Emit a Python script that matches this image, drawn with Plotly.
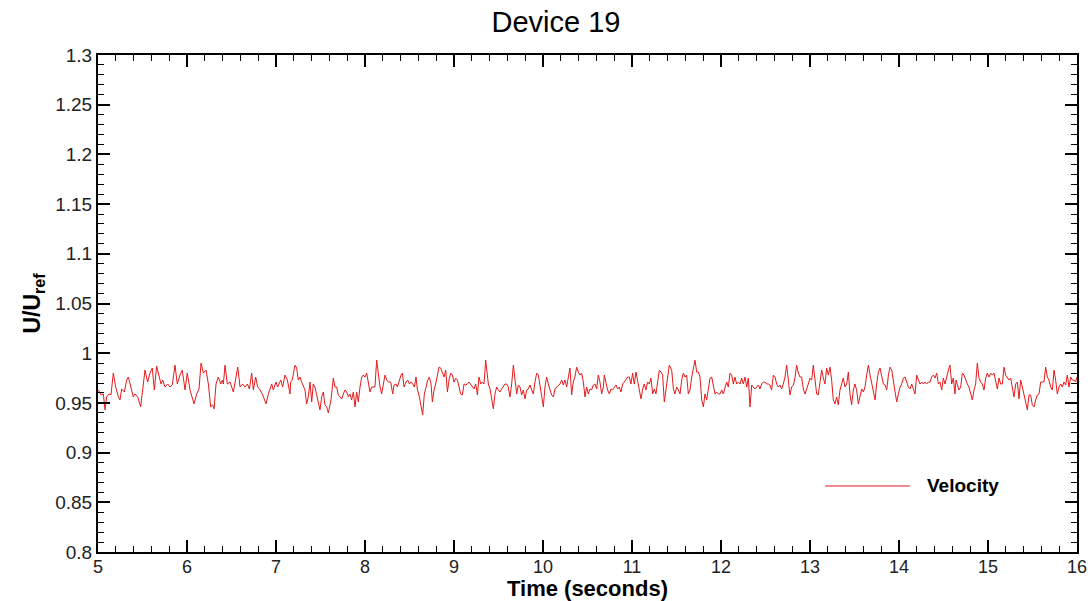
import plotly.graph_objects as go

title_text = "Device 19"
x_label = "Time (seconds)"
y_label = "<b>U/U<sub>ref</sub></b>"
series_name = "Velocity"

time_s = [
    5.004, 5.034, 5.06, 5.079, 5.097, 5.124, 5.146, 5.172, 5.199, 5.229, 5.247, 5.266, 5.296, 5.322, 5.341,
    5.371, 5.397, 5.416, 5.446, 5.479, 5.502, 5.528, 5.558, 5.584, 5.61, 5.633, 5.659, 5.685, 5.708, 5.727,
    5.753, 5.783, 5.809, 5.835, 5.865, 5.891, 5.921, 5.947, 5.978, 6.003, 6.034, 6.079,
    6.109, 6.135, 6.158, 6.184, 6.214, 6.240, 6.266, 6.289, 6.304, 6.326, 6.352, 6.379, 6.397, 6.409, 6.427,
    6.453, 6.483, 6.521, 6.547, 6.570, 6.596, 6.626, 6.652, 6.678, 6.701, 6.727, 6.746, 6.772, 6.794, 6.821,
    6.851, 6.888, 6.914, 6.952, 6.970, 7.000, 7.019, 7.053, 7.075, 7.101, 7.128, 7.158,
    7.165, 7.183, 7.213, 7.232, 7.251, 7.270, 7.288, 7.307, 7.326, 7.344, 7.363, 7.382, 7.401, 7.419, 7.438,
    7.457, 7.476, 7.494, 7.513, 7.532, 7.550, 7.569, 7.588, 7.618, 7.644, 7.663, 7.682, 7.700, 7.719, 7.738,
    7.757, 7.775, 7.794, 7.813, 7.831, 7.850, 7.869, 7.888, 7.906, 7.925, 7.944, 7.963, 7.981, 8.000, 8.019,
    8.037, 8.056, 8.075, 8.093, 8.112, 8.131, 8.150, 8.169, 8.187, 8.206, 8.225,
    8.244, 8.263, 8.289, 8.311, 8.326, 8.349, 8.364, 8.386, 8.405, 8.420, 8.439, 8.461, 8.480, 8.499, 8.517,
    8.536, 8.555, 8.573, 8.588, 8.611, 8.630, 8.648, 8.667, 8.686, 8.705, 8.723, 8.742, 8.757, 8.776, 8.794,
    8.813, 8.832, 8.851, 8.869, 8.888, 8.907, 8.926, 8.944, 8.963, 8.982, 9.000, 9.019, 9.038, 9.057, 9.075,
    9.094, 9.113, 9.131, 9.150, 9.169, 9.188, 9.206, 9.225, 9.244, 9.263, 9.281,
    9.300, 9.318, 9.337, 9.356, 9.371, 9.386, 9.405, 9.423, 9.442, 9.461, 9.479, 9.498, 9.517, 9.536, 9.554,
    9.573, 9.592, 9.610, 9.629, 9.648, 9.667, 9.685, 9.704, 9.723, 9.742, 9.760, 9.779, 9.798, 9.817, 9.835,
    9.854, 9.873, 9.891, 9.910, 9.929, 9.948, 9.966, 9.985, 10.004, 10.022, 10.041, 10.060, 10.079, 10.097,
    10.116, 10.135, 10.154, 10.172, 10.191, 10.210, 10.228, 10.247, 10.266, 10.285, 10.303,
    10.322, 10.340, 10.359, 10.378, 10.397, 10.415, 10.434, 10.453, 10.472, 10.490, 10.509, 10.528, 10.546,
    10.565, 10.584, 10.603, 10.621, 10.640, 10.659, 10.678, 10.689, 10.707, 10.726, 10.745, 10.764, 10.782,
    10.801, 10.820, 10.839, 10.857, 10.876, 10.895, 10.913, 10.932, 10.951, 10.970, 10.988, 11.007, 11.026,
    11.045, 11.063, 11.082, 11.101, 11.120, 11.138, 11.157, 11.176, 11.195, 11.213, 11.232, 11.251, 11.269,
    11.288, 11.307, 11.326, 11.344, 11.363, 11.382, 11.400, 11.419,
    11.446, 11.465, 11.483, 11.502, 11.521, 11.540, 11.558, 11.577, 11.596, 11.614, 11.633, 11.652, 11.671,
    11.689, 11.708, 11.727, 11.746, 11.764, 11.783, 11.802, 11.820, 11.839, 11.858, 11.877, 11.895, 11.914,
    11.933, 11.951, 11.970, 11.989, 12.008, 12.026, 12.045, 12.064, 12.083, 12.101, 12.120, 12.139, 12.157,
    12.176, 12.195, 12.214, 12.232, 12.251, 12.270, 12.289, 12.307, 12.326, 12.345, 12.363, 12.382, 12.401,
    12.420, 12.438, 12.457, 12.476,
    12.494, 12.513, 12.532, 12.550, 12.569, 12.588, 12.607, 12.625, 12.644, 12.663, 12.681, 12.700, 12.719,
    12.738, 12.756, 12.775, 12.794, 12.813, 12.831, 12.850, 12.869, 12.887, 12.906, 12.925, 12.944, 12.962,
    12.981, 13.000, 13.019, 13.037, 13.056, 13.075, 13.093, 13.112, 13.131, 13.150, 13.168, 13.187, 13.206,
    13.225, 13.243, 13.262, 13.281, 13.299, 13.318, 13.337, 13.356, 13.374, 13.393, 13.412, 13.431, 13.449,
    13.468, 13.487, 13.505, 13.524, 13.543,
    13.562, 13.581, 13.600, 13.618, 13.637, 13.656, 13.675, 13.693, 13.712, 13.731, 13.749, 13.768, 13.787,
    13.806, 13.824, 13.843, 13.862, 13.881, 13.899, 13.918, 13.937, 13.955, 13.974, 13.993, 14.012, 14.030,
    14.049, 14.068, 14.087, 14.105, 14.124, 14.143, 14.161, 14.180, 14.199, 14.218, 14.236, 14.255, 14.274,
    14.292, 14.311, 14.330, 14.349, 14.367, 14.386, 14.405, 14.424, 14.442, 14.461, 14.480, 14.498, 14.517,
    14.536, 14.555, 14.573,
    14.592, 14.610, 14.629, 14.640, 14.655, 14.674, 14.693, 14.712, 14.730, 14.749, 14.768, 14.786, 14.805,
    14.824, 14.843, 14.861, 14.880, 14.899, 14.918, 14.936, 14.955, 14.974, 14.992, 15.011, 15.030, 15.049,
    15.067, 15.086, 15.105, 15.124, 15.142, 15.161, 15.180, 15.198, 15.217, 15.236, 15.255, 15.273, 15.292,
    15.311, 15.330, 15.348, 15.367, 15.386, 15.404, 15.423, 15.442, 15.461, 15.479, 15.498, 15.517, 15.536,
    15.554, 15.573, 15.592, 15.610, 15.629, 15.648, 15.667, 15.685, 15.704, 15.723, 15.742, 15.760, 15.779,
    15.798, 15.817, 15.835, 15.854, 15.873, 15.891, 15.910, 15.929, 15.948, 15.966, 15.985, 16.000,
]

velocity = [
    0.963, 0.958, 0.959, 0.943, 0.956, 0.959, 0.958, 0.980, 0.966, 0.956, 0.953, 0.964, 0.961, 0.973, 0.976,
    0.964, 0.956, 0.959, 0.956, 0.946, 0.963, 0.983, 0.971, 0.980, 0.985, 0.963, 0.987, 0.976, 0.969, 0.973,
    0.966, 0.969, 0.966, 0.968, 0.988, 0.969, 0.978, 0.983, 0.963, 0.980, 0.963, 0.949,
    0.959, 0.964, 0.990, 0.980, 0.983, 0.969, 0.946, 0.948, 0.944, 0.969, 0.976, 0.969, 0.973, 0.969, 0.988,
    0.969, 0.971, 0.961, 0.973, 0.986, 0.966, 0.969, 0.966, 0.969, 0.964, 0.980, 0.963, 0.976, 0.966, 0.963,
    0.958, 0.949, 0.959, 0.969, 0.963, 0.971, 0.966, 0.973, 0.966, 0.978, 0.973, 0.959,
    0.971, 0.973, 0.988, 0.985, 0.973, 0.976, 0.971, 0.966, 0.963, 0.949, 0.956, 0.971, 0.951, 0.969, 0.966,
    0.958, 0.949, 0.943, 0.956, 0.961, 0.948, 0.946, 0.940, 0.953, 0.975, 0.966, 0.966, 0.958, 0.956, 0.954,
    0.959, 0.963, 0.961, 0.956, 0.959, 0.953, 0.961, 0.946, 0.961, 0.951, 0.966, 0.976, 0.978, 0.976, 0.980,
    0.969, 0.961, 0.966, 0.966, 0.966, 0.993, 0.976, 0.966, 0.959, 0.969, 0.978,
    0.973, 0.971, 0.971, 0.959, 0.968, 0.969, 0.966, 0.973, 0.978, 0.980, 0.966, 0.971, 0.973, 0.969, 0.971,
    0.969, 0.966, 0.976, 0.964, 0.956, 0.944, 0.938, 0.959, 0.966, 0.973, 0.976, 0.969, 0.951, 0.963, 0.969,
    0.976, 0.986, 0.985, 0.980, 0.976, 0.983, 0.961, 0.973, 0.980, 0.978, 0.971, 0.975, 0.973, 0.966, 0.959,
    0.958, 0.969, 0.968, 0.969, 0.971, 0.969, 0.966, 0.964, 0.969, 0.958, 0.976,
    0.969, 0.971, 0.969, 0.993, 0.983, 0.969, 0.964, 0.956, 0.944, 0.959, 0.966, 0.963, 0.961, 0.964, 0.966,
    0.969, 0.969, 0.966, 0.956, 0.969, 0.988, 0.973, 0.959, 0.968, 0.966, 0.958, 0.963, 0.954, 0.963, 0.964,
    0.968, 0.963, 0.959, 0.971, 0.980, 0.978, 0.969, 0.959, 0.946, 0.966, 0.976, 0.969, 0.963, 0.958,
    0.956, 0.964, 0.966, 0.968, 0.969, 0.973, 0.968, 0.973, 0.966, 0.976, 0.985,
    0.958, 0.971, 0.976, 0.986, 0.981, 0.978, 0.980, 0.971, 0.956, 0.966, 0.959, 0.964, 0.963,
    0.968, 0.969, 0.964, 0.978, 0.971, 0.959, 0.966, 0.978, 0.971, 0.963, 0.959, 0.964, 0.963,
    0.966, 0.968, 0.964, 0.966, 0.961, 0.969, 0.971, 0.973, 0.976, 0.976, 0.969, 0.980, 0.969,
    0.981, 0.973, 0.966, 0.954, 0.964, 0.969, 0.963, 0.971, 0.969, 0.975, 0.959, 0.964, 0.959,
    0.973, 0.983, 0.981, 0.978, 0.951, 0.963, 0.978, 0.988,
    0.983, 0.964, 0.959, 0.966, 0.963, 0.959, 0.973, 0.980, 0.976, 0.978, 0.959, 0.963, 0.976,
    0.983, 0.993, 0.981, 0.981, 0.976, 0.953, 0.946, 0.959, 0.953, 0.963, 0.975, 0.976, 0.969,
    0.959, 0.961, 0.959, 0.959, 0.963, 0.959, 0.966, 0.971, 0.966, 0.980, 0.978, 0.969, 0.976,
    0.969, 0.971, 0.969, 0.975, 0.969, 0.976, 0.966, 0.975, 0.946, 0.968, 0.966, 0.964, 0.966,
    0.968, 0.964, 0.969, 0.971,
    0.971, 0.969, 0.969, 0.968, 0.963, 0.978, 0.976, 0.969, 0.966, 0.968, 0.964, 0.969, 0.976,
    0.988, 0.973, 0.958, 0.966, 0.968, 0.975, 0.988, 0.980, 0.976, 0.976, 0.964, 0.959, 0.963,
    0.969, 0.975, 0.973, 0.988, 0.976, 0.959, 0.958, 0.973, 0.983, 0.975, 0.969, 0.985, 0.978,
    0.986, 0.973, 0.953, 0.949, 0.956, 0.948, 0.963, 0.971, 0.975, 0.966, 0.969, 0.981, 0.959,
    0.948, 0.963, 0.969, 0.963, 0.949,
    0.956, 0.964, 0.961, 0.966, 0.978, 0.988, 0.978, 0.969, 0.963, 0.953, 0.969, 0.981, 0.985,
    0.978, 0.969, 0.968, 0.963, 0.978, 0.986, 0.983, 0.973, 0.963, 0.951, 0.959, 0.966, 0.969,
    0.975, 0.976, 0.971, 0.966, 0.964, 0.969, 0.964, 0.959, 0.978, 0.973, 0.969, 0.971, 0.969,
    0.971, 0.969, 0.971, 0.971, 0.976, 0.978, 0.975, 0.980, 0.969, 0.971, 0.963, 0.975, 0.969,
    0.978, 0.983, 0.988,
    0.969, 0.975, 0.959, 0.973, 0.969, 0.963, 0.966, 0.980, 0.978, 0.973, 0.969, 0.966, 0.959,
    0.953, 0.963, 0.969, 0.990, 0.975, 0.971, 0.969, 0.963, 0.975, 0.980, 0.976, 0.980, 0.978,
    0.980, 0.971, 0.964, 0.975, 0.969, 0.969, 0.986, 0.978, 0.975, 0.973, 0.975, 0.966, 0.956,
    0.969, 0.971, 0.954, 0.973, 0.966, 0.959, 0.953, 0.943, 0.958, 0.958, 0.948, 0.946, 0.953,
    0.958, 0.959, 0.971, 0.971, 0.971, 0.986, 0.976, 0.973, 0.966, 0.963, 0.983, 0.973, 0.959,
    0.966, 0.969, 0.966, 0.971, 0.968, 0.978, 0.966, 0.976, 0.973, 0.973, 0.971, 0.976,
]

x_range = [5, 16]
y_range = [0.8, 1.3]
x_ticks = [5, 6, 7, 8, 9, 10, 11, 12, 13, 14, 15, 16]
y_ticks = [0.8, 0.85, 0.9, 0.95, 1.0, 1.05, 1.1, 1.15, 1.2, 1.25, 1.3]
y_tick_text = ["0.8", "0.85", "0.9", "0.95", "1", "1.05", "1.1", "1.15", "1.2", "1.25", "1.3"]

line_color = "#e41a1c"
font_family = "Liberation Sans, Arial, sans-serif"

fig = go.Figure()
fig.add_trace(go.Scatter(
    x=time_s, y=velocity, mode="lines", name=series_name,
    line=dict(color=line_color, width=1), showlegend=False,
))

axis_common = dict(
    showgrid=False, zeroline=False, showline=True, linecolor="black", linewidth=2,
    mirror="ticks", ticks="inside", ticklen=12, tickwidth=2, tickcolor="black",
    automargin=False,
)

fig.update_xaxes(
    range=x_range, tickvals=x_ticks, **axis_common,
    tickfont=dict(family=font_family, size=18, color="#222"),
    ticklabelstandoff=-3,
    minor=dict(ticks="inside", ticklen=6, tickwidth=1, tickcolor="black", dtick=0.2, tick0=5, showgrid=False),
    title=dict(text="<b>" + x_label + "</b>", font=dict(family=font_family, size=22, color="black"), standoff=0),
)
fig.update_yaxes(
    range=y_range, tickvals=y_ticks, ticktext=y_tick_text, **axis_common,
    tickfont=dict(family=font_family, size=19, color="#222"),
    minor=dict(ticks="inside", ticklen=6, tickwidth=1, tickcolor="black", dtick=0.01, tick0=0.8, showgrid=False),
    title=dict(text=y_label, font=dict(family=font_family, size=23, color="black"), standoff=8),
)

# legend drawn as a sample line and label
fig.add_shape(type="line", xref="paper", yref="paper", x0=0.7426, x1=0.8294, y0=0.1328, y1=0.1328,
              line=dict(color=line_color, width=1))
fig.add_annotation(xref="paper", yref="paper", x=0.8447, y=0.1328, xanchor="left", yanchor="middle",
                   text="<b>" + series_name + "</b>", showarrow=False,
                   font=dict(family=font_family, size=19, color="black"))

fig.update_layout(
    width=1091, height=601,
    margin=dict(l=98, r=14, t=55, b=49, autoexpand=False),
    paper_bgcolor="white", plot_bgcolor="white",
    title=dict(text=title_text, x=0.5096, xanchor="center", y=0.963, yanchor="middle",
               font=dict(family=font_family, size=29, color="black"), automargin=False),
    showlegend=False,
)

fig.write_html("out.html")
